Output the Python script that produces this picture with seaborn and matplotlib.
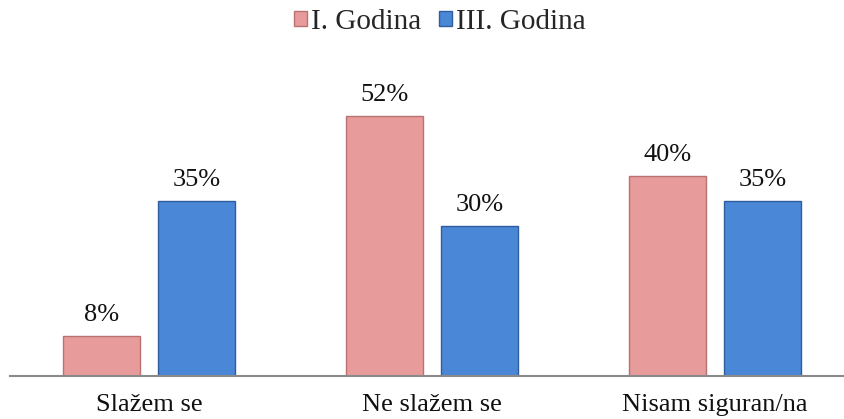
import matplotlib
matplotlib.use("Agg")
import matplotlib.pyplot as plt
import seaborn as sns
import pandas as pd
from matplotlib.patches import Patch

categories = ["Slažem se", "Ne slažem se", "Nisam siguran/na"]
series_names = ["I. Godina", "III. Godina"]
year1_values = [8, 52, 40]
year3_values = [35, 30, 35]

df = pd.DataFrame({
    "Odgovor": categories * 2,
    "Godina": [series_names[0]] * 3 + [series_names[1]] * 3,
    "Postotak": year1_values + year3_values,
})

sns.set_theme(style="white")
plt.rcParams["font.family"] = ["Liberation Serif", "DejaVu Serif"]

fig = plt.figure(figsize=(8.45, 4.19), dpi=100)
ax = fig.add_axes([10 / 845, 43 / 419, 835 / 845, 300 / 419])

palette = {"I. Godina": "#E89B9B", "III. Godina": "#4A87D6"}
edges = {"I. Godina": "#B97272", "III. Godina": "#2F5E9E"}

sns.barplot(data=df, x="Odgovor", y="Postotak", hue="Godina", order=categories,
            hue_order=series_names, palette=palette, width=0.67, gap=0.19,
            ax=ax, legend=False, saturation=1)

for container, name in zip(ax.containers, series_names):
    for bar in container:
        bar.set_edgecolor(edges[name])
        bar.set_linewidth(1.0)
    ax.bar_label(container, labels=[f"{int(v)}%" for v in container.datavalues],
                 padding=7.5, fontsize=19, color="#111111")

ax.set_xlim(-0.491, 2.459)
ax.set_ylim(0, 60)
ax.set_xlabel("")
ax.set_ylabel("")
ax.set_yticks([])
ax.tick_params(axis="x", length=0, labelsize=19, pad=13, colors="#111111")
for side in ["top", "right", "left"]:
    ax.spines[side].set_visible(False)
ax.spines["bottom"].set_color("#8a8a8a")
ax.spines["bottom"].set_linewidth(1.5)

handles = [Patch(facecolor=palette[n], edgecolor=edges[n], label=n) for n in series_names]
fig.legend(handles=handles, loc="center", bbox_to_anchor=(440 / 845, 1 - 22 / 419),
           ncol=2, frameon=False, fontsize=21, handlelength=0.45, handleheight=0.45,
           handletextpad=0.15, columnspacing=0.6, borderpad=0)

fig.savefig("out.png", dpi=100)
